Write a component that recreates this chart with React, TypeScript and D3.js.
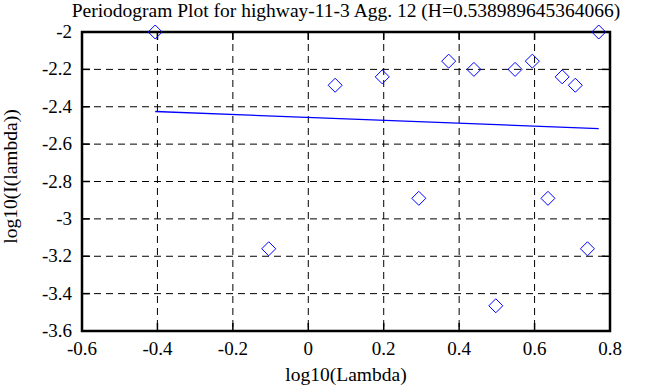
import React from 'react';
import * as d3 from 'd3';

// periodogram points: log10(lambda) vs log10(I(lambda))
const logLambda = [-0.40594, -0.10491, 0.07118, 0.19612, 0.29303, 0.37221, 0.43916, 0.49715,
  0.5483, 0.59406, 0.63545, 0.67324, 0.708, 0.74018, 0.77014];
const logI = [-2.0, -3.16, -2.285, -2.24, -2.89, -2.156, -2.2, -3.465,
  -2.2, -2.156, -2.89, -2.24, -2.285, -3.16, -2.0];

const hurst = 0.538989645364066;
const xTicks = [-0.6, -0.4, -0.2, 0, 0.2, 0.4, 0.6, 0.8];
const yTicks = [-2, -2.2, -2.4, -2.6, -2.8, -3, -3.2, -3.4, -3.6];

const W = 668;
const H = 387;
const left = 82, right = 610, top = 32, bottom = 331;
const font = '"Liberation Serif", "Times New Roman", serif';

const App = () => {
  const x = d3.scaleLinear().domain([-0.6, 0.8]).range([left, right]);
  const y = d3.scaleLinear().domain([-3.6, -2]).range([bottom, top]);

  // fitted line: slope = 1 - 2H, through the mean point
  const slope = 1 - 2 * hurst;
  const mx = d3.mean(logLambda) as number;
  const my = d3.mean(logI) as number;
  const x0 = d3.min(logLambda) as number;
  const x1 = d3.max(logLambda) as number;
  const fit = (v: number) => my + slope * (v - mx);

  const line = d3.line<number>().x(d => x(d)).y(d => y(fit(d)));
  const r = 7;

  return (
    <svg width={W} height={H} style={{ position: 'absolute', left: 0, top: 0, background: '#fff' }}>
      <rect width={W} height={H} fill="#fff" />
      <text x={(left + right) / 2} y={17} textAnchor="middle" fontFamily={font} fontSize={19.5}>
        Periodogram Plot for highway-11-3 Agg. 12 (H={hurst})
      </text>

      {/* grid */}
      {xTicks.slice(1, -1).map(t => (
        <line key={'gx' + t} x1={x(t)} x2={x(t)} y1={top} y2={bottom}
          stroke="#000" strokeWidth={1} strokeDasharray="7,5" />
      ))}
      {yTicks.slice(1, -1).map(t => (
        <line key={'gy' + t} x1={left} x2={right} y1={y(t)} y2={y(t)}
          stroke="#000" strokeWidth={1} strokeDasharray="7,5" />
      ))}

      {/* inward ticks */}
      {xTicks.map(t => (
        <g key={'tx' + t}>
          <line x1={x(t)} x2={x(t)} y1={bottom} y2={bottom - 8} stroke="#000" strokeWidth={1.5} />
          <line x1={x(t)} x2={x(t)} y1={top} y2={top + 8} stroke="#000" strokeWidth={1.5} />
          <text x={x(t)} y={355} textAnchor="middle" fontFamily={font} fontSize={19}>{t}</text>
        </g>
      ))}
      {yTicks.map(t => (
        <g key={'ty' + t}>
          <line x1={left} x2={left + 8} y1={y(t)} y2={y(t)} stroke="#000" strokeWidth={1.5} />
          <line x1={right} x2={right - 8} y1={y(t)} y2={y(t)} stroke="#000" strokeWidth={1.5} />
          <text x={72} y={y(t) + 6} textAnchor="end" fontFamily={font} fontSize={19}>{t}</text>
        </g>
      ))}

      <rect x={left} y={top} width={right - left} height={bottom - top}
        fill="none" stroke="#000" strokeWidth={2.5} />

      {/* data diamonds */}
      {logLambda.map((v, i) => {
        const cx = x(v), cy = y(logI[i]);
        return (
          <path key={'p' + i}
            d={`M${cx},${cy - r}L${cx + r},${cy}L${cx},${cy + r}L${cx - r},${cy}Z`}
            fill="none" stroke="#0000ff" strokeWidth={1} />
        );
      })}

      <path d={line([x0, x1]) || ''} fill="none" stroke="#0000ff" strokeWidth={1.3} />

      <text x={(left + right) / 2} y={381} textAnchor="middle" fontFamily={font} fontSize={19.5}>
        log10(Lambda)
      </text>
      <text transform={`translate(17,${(top + bottom) / 2 - 5}) rotate(-90)`} textAnchor="middle"
        fontFamily={font} fontSize={19.5}>
        log10(I(lambda))
      </text>
    </svg>
  );
};

export default App;
